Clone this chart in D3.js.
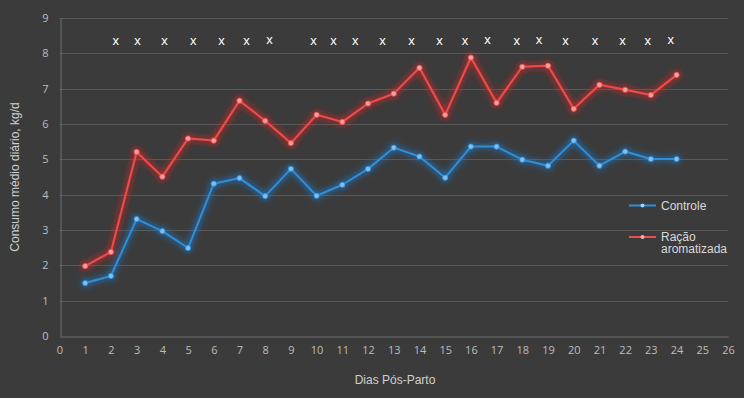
<!DOCTYPE html>
<html><head><meta charset="utf-8">
<script src="https://cdn.jsdelivr.net/npm/d3@7"></script>
<style>
html,body{margin:0;padding:0;background:#3b3b3b;}
svg{display:block;}
</style></head>
<body>
<script>
const days = [1,2,3,4,5,6,7,8,9,10,11,12,13,14,15,16,17,18,19,20,21,22,23,24];
const controle = [1.50,1.70,3.31,2.97,2.49,4.31,4.47,3.96,4.73,3.97,4.28,4.73,5.33,5.08,4.48,5.36,5.36,4.99,4.82,5.53,4.82,5.22,5.01,5.01];
const racao = [1.98,2.38,5.21,4.51,5.59,5.53,6.66,6.09,5.46,6.26,6.06,6.58,6.86,7.59,6.26,7.88,6.60,7.62,7.65,6.43,7.11,6.97,6.82,7.39];
const markDays = [2.19,3.03,4.08,5.2,6.3,7.27,8.17,9.88,10.66,11.5,12.56,13.69,14.78,15.77,16.65,17.78,18.65,19.68,20.83,21.9,22.88,23.77];
const markVals = [8.36,8.36,8.36,8.36,8.36,8.36,8.40,8.36,8.36,8.36,8.36,8.36,8.36,8.36,8.38,8.36,8.38,8.36,8.36,8.36,8.36,8.40];
const xTicks = d3.range(0,27);
const yTicks = d3.range(0,10);
const seriesNames = ["Controle","Ração aromatizada"];
const colors = ["#2f8fd8","#ef4c4c"];
const glowColors = ["#1a78cc","#e02424"];

const W=744,H=398;
const svg=d3.select("body").append("svg").attr("width",W).attr("height",H);
svg.append("rect").attr("width",W).attr("height",H).attr("fill","#3b3b3b");

const x=d3.scaleLinear().domain([0,26]).range([59.5,728]);
const y=d3.scaleLinear().domain([0,9]).range([336,18]);

const defs=svg.append("defs");
glowColors.forEach((c,i)=>{
  const f=defs.append("filter").attr("id","glow"+i).attr("x","-10%").attr("y","-20%").attr("width","120%").attr("height","140%");
  f.append("feMorphology").attr("in","SourceAlpha").attr("operator","dilate").attr("radius",1).attr("result","d");
  f.append("feGaussianBlur").attr("in","d").attr("stdDeviation",3).attr("result","b");
  f.append("feFlood").attr("flood-color",c).attr("flood-opacity",0.75);
  f.append("feComposite").attr("in2","b").attr("operator","in").attr("result","g");
  const m=f.append("feMerge");
  m.append("feMergeNode").attr("in","g");
  m.append("feMergeNode").attr("in","SourceGraphic");
});

// gridlines
svg.append("g").selectAll("line").data(yTicks.filter(d=>d>0)).join("line")
  .attr("x1",x(0)).attr("x2",x(26)).attr("y1",d=>Math.round(y(d))+0.5).attr("y2",d=>Math.round(y(d))+0.5)
  .attr("stroke","#595959").attr("stroke-width",1);

// axes
const font="'Liberation Sans', Arial, sans-serif";
const xAxis=svg.append("g").attr("transform",`translate(0,${Math.round(y(0))+0.5})`)
  .call(d3.axisBottom(x).tickValues(xTicks).tickSize(0).tickPadding(10).tickFormat(d3.format("d")));
xAxis.select(".domain").attr("stroke","#6e6e6e");
xAxis.selectAll("text").attr("fill","#bdbdbd").style("font-family","'Open Sans', sans-serif").style("font-size","11px");

const yAxis=svg.append("g").attr("transform",`translate(${Math.round(x(0))+0.5},0)`)
  .call(d3.axisLeft(y).tickValues(yTicks).tickSize(0).tickPadding(12).tickFormat(d3.format("d")));
yAxis.select(".domain").attr("stroke","#6e6e6e");
yAxis.selectAll("text").attr("fill","#bdbdbd").style("font-family","'Open Sans', sans-serif").style("font-size","11px");

// titles
svg.append("text").attr("x",395).attr("y",384).attr("text-anchor","middle")
  .attr("fill","#d0d0d0").style("font-family",font).style("font-size","12px").text("Dias Pós-Parto");
svg.append("text").attr("transform","translate(19,177) rotate(-90)").attr("text-anchor","middle")
  .attr("fill","#d0d0d0").style("font-family",font).style("font-size","12px").text("Consumo médio diário, kg/d");

// lines
const line=d3.line().x((d,i)=>x(days[i])).y(d=>y(d));
[controle,racao].forEach((vals,i)=>{
  const g=svg.append("g").attr("filter",`url(#glow${i})`);
  g.append("path").attr("d",line(vals)).attr("fill","none").attr("stroke",colors[i]).attr("stroke-width",2).attr("stroke-linejoin","round");
  g.selectAll("circle").data(vals).join("circle").attr("cx",(d,j)=>x(days[j])).attr("cy",d=>y(d)).attr("r",2.6)
   .attr("fill",i===0?"#7fc0f0":"#f7a0a0").attr("stroke",colors[i]).attr("stroke-width",0.8);
});

// significance marks
svg.append("g").selectAll("text").data(markDays).join("text")
  .attr("x",d=>x(d)).attr("y",(d,i)=>y(markVals[i])+4.5).attr("text-anchor","middle")
  .attr("fill","#ffffff").style("font-family",font).style("font-size","13px").text("x");

// legend
const leg=svg.append("g");
const ly=[205.5,237];
seriesNames.forEach((n,i)=>{
  leg.append("line").attr("x1",629).attr("x2",656).attr("y1",ly[i]).attr("y2",ly[i]).attr("stroke",colors[i]).attr("stroke-width",2);
  leg.append("circle").attr("cx",642.5).attr("cy",ly[i]).attr("r",2).attr("fill",i===0?"#9fd0f5":"#f7b0b0");
});
leg.append("text").attr("x",661).attr("y",210).attr("fill","#d9d9d9").style("font-family",font).style("font-size","12px").text("Controle");
const t2=leg.append("text").attr("x",661).attr("y",240.5).attr("fill","#d9d9d9").style("font-family",font).style("font-size","12px");
t2.append("tspan").attr("x",661).text("Ração");
t2.append("tspan").attr("x",661).attr("dy",12.5).text("aromatizada");
</script>
</body></html>
